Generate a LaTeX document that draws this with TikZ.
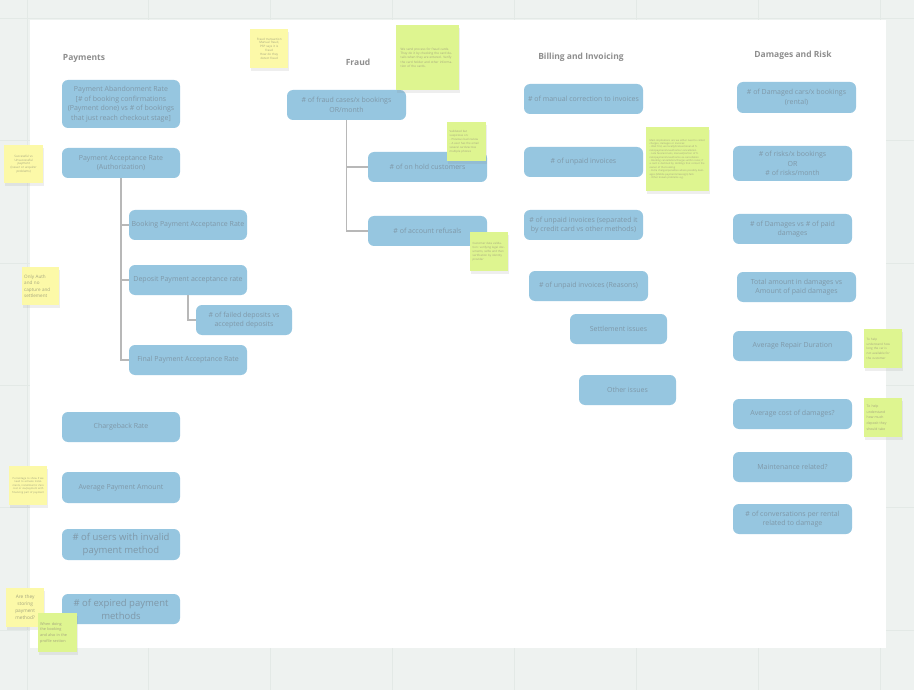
\documentclass[tikz,border=0pt]{standalone}
\usepackage{fontspec}
\setmainfont{Open Sans}
\usetikzlibrary{shadows}
\definecolor{bg}{HTML}{EEF2F0}
\definecolor{gridc}{HTML}{E3E9E6}
\definecolor{boxc}{HTML}{96C6E0}
\definecolor{boxt}{HTML}{7F98A8}
\definecolor{titlec}{HTML}{8E8E8E}
\definecolor{yel}{HTML}{FCF9A8}
\definecolor{grn}{HTML}{DEF590}
\definecolor{notet}{HTML}{A4A47E}
\definecolor{linec}{HTML}{B8B8B8}
\tikzset{
  box/.style={fill=boxc, rounded corners=6pt, align=center, text=boxt,
    font=\fontsize{7}{9.6}\selectfont, inner sep=1pt},
  bigbox/.style={box, font=\fontsize{9.5}{13}\selectfont},
  ttl/.style={text=titlec, font=\bfseries\fontsize{8.5}{10}\selectfont},
  note/.style={anchor=north west, text=notet, inner sep=2pt,
    font=\fontsize{3}{3.9}\selectfont,
    drop shadow={opacity=0.13, shadow xshift=1pt, shadow yshift=-3pt}},
  ynote/.style={note, fill=yel},
  gnote/.style={note, fill=grn},
  tree/.style={draw=linec, line width=1.2pt},
}
\begin{document}
\begin{tikzpicture}[x=1pt,y=-1pt]
\useasboundingbox (0,0) rectangle (914,690);
% background and grid
\fill[bg] (0,0) rectangle (914,690);
\foreach \gx in {27,148,270,392,514,636,758,880}
  \draw[gridc, line width=0.8pt] (\gx,0) -- (\gx,690);
\foreach \gy in {18,140,263,385,507,630}
  \draw[gridc, line width=0.8pt] (0,\gy) -- (914,\gy);
\fill[white] (30,20) rectangle (886,648);

% titles
\node[ttl] (tpay) at (84,58) {Payments};
\node[ttl] (tfra) at (358,62) {Fraud};
\node[ttl] (tbil) at (581,57) {Billing and Invoicing};
\node[ttl] (tdam) at (793,55) {Damages and Risk};

% Payments
\node[box, minimum width=118pt, minimum height=48pt] (P1) at (121,104)
  {Payment Abandonment Rate\\{[}\# of booking confirmations\\(Payment done) vs \# of bookings\\that just reach checkout stage{]}};
\node[box, minimum width=118pt, minimum height=30pt] (P2) at (121,163)
  {Payment Acceptance Rate\\(Authorization)};
\node[box, minimum width=118pt, minimum height=30pt] (P3) at (188,225)
  {Booking Payment Acceptance Rate};
\node[box, minimum width=118pt, minimum height=30pt] (P4) at (188,280)
  {Deposit Payment acceptance rate};
\node[box, minimum width=96pt, minimum height=30pt] (P5) at (244,320)
  {\# of failed deposits vs\\accepted deposits};
\node[box, minimum width=118pt, minimum height=30pt] (P6) at (188,360)
  {Final Payment Acceptance Rate};
\node[box, minimum width=118pt, minimum height=30pt] (P7) at (121,427)
  {Chargeback Rate};
\node[box, minimum width=118pt, minimum height=31pt] (P8) at (121,487.5)
  {Average Payment Amount};
\node[bigbox, minimum width=118pt, minimum height=31pt] (P9) at (121,544.5)
  {\# of users with invalid\\payment method};
\node[bigbox, minimum width=118pt, minimum height=30pt] (P10) at (121,609)
  {\# of expired payment\\methods};
\draw[tree] (P2.south) -- (P2.south |- P6.west) -- (P6.west);
\draw[tree] (P2.south |- P3.west) -- (P3.west);
\draw[tree] (P2.south |- P4.west) -- (P4.west);
\draw[tree] (P4.south) -- (P4.south |- P5.west) -- (P5.west);

% Fraud
\node[box, minimum width=119pt, minimum height=30pt] (F1) at (346.5,105)
  {\# of fraud cases/x bookings\\OR/month};
\node[box, minimum width=119pt, minimum height=30pt] (F2) at (427.5,167)
  {\# of on hold customers};
\node[box, minimum width=119pt, minimum height=30pt] (F3) at (427.5,231)
  {\# of account refusals};
\draw[tree] (F1.south) -- (F1.south |- F3.west) -- (F3.west);
\draw[tree] (F1.south |- F2.west) -- (F2.west);

% Billing
\node[box, minimum width=119pt, minimum height=30pt] (B1) at (583.5,99)
  {\# of manual correction to invoices};
\node[box, minimum width=119pt, minimum height=30pt] (B2) at (583.5,162)
  {\# of unpaid invoices};
\node[box, minimum width=119pt, minimum height=30pt] (B3) at (583.5,225)
  {\# of unpaid invoices (separated it\\by credit card vs other methods)};
\node[box, minimum width=119pt, minimum height=30pt] (B4) at (588.5,286)
  {\# of unpaid invoices (Reasons)};
\node[box, minimum width=97pt, minimum height=30pt] (B5) at (618.5,329)
  {Settlement issues};
\node[box, minimum width=97pt, minimum height=30pt] (B6) at (627.5,390)
  {Other issues};

% Damages
\node[box, minimum width=119pt, minimum height=31pt] (D1) at (796.5,97.5)
  {\# of Damaged cars/x bookings\\(rental)};
\node[box, minimum width=119pt, minimum height=35pt] (D2) at (792.5,163.5)
  {\# of risks/x bookings\\OR\\\# of risks/month};
\node[box, minimum width=119pt, minimum height=30pt] (D3) at (792.5,229)
  {\# of Damages vs \# of paid\\damages};
\node[box, minimum width=119pt, minimum height=30pt] (D4) at (796.5,287)
  {Total amount in damages vs\\Amount of paid damages};
\node[box, minimum width=119pt, minimum height=30pt] (D5) at (792.5,346)
  {Average Repair Duration};
\node[box, minimum width=119pt, minimum height=30pt] (D6) at (792.5,414)
  {Average cost of damages?};
\node[box, minimum width=119pt, minimum height=30pt] (D7) at (792.5,467)
  {Maintenance related?};
\node[box, minimum width=119pt, minimum height=30pt] (D8) at (792.5,519)
  {\# of conversations per rental\\related to damage};

% sticky notes
\node[ynote, minimum width=39pt, minimum height=38pt, text width=34pt, align=center] (N1) at (4,145)
  {Successful vs\\Unsuccessful\\payment\\(issuer or acquirer\\problems)};
\node[ynote, minimum width=37pt, minimum height=38pt, text width=33pt, align=left,
  font=\fontsize{4.6}{6.6}\selectfont] (N2) at (22,267)
  {Only Auth\\and no\\capture and\\settlement};
\node[ynote, minimum width=38pt, minimum height=39pt, text width=34pt, align=center,
  font=\fontsize{2.6}{3.4}\selectfont] (N3) at (9,466)
  {Percentage to show if we need to activate instalments, installments/ Zero cost or via/payment with financing part of payment};
\node[ynote, minimum width=38pt, minimum height=39pt, text width=34pt, align=center,
  font=\fontsize{4.8}{7}\selectfont] (N4) at (6,588)
  {Are they\\storing\\payment\\method?};
\node[gnote, minimum width=39pt, minimum height=39pt, text width=35pt, align=left,
  font=\fontsize{3.8}{5.6}\selectfont] (N5) at (38,613)
  {When doing\\the booking\\and also in the\\profile section};
\node[ynote, minimum width=38pt, minimum height=39pt, text width=34pt, align=center] (N6) at (250,29)
  {Fraud transaction\\Manual fraud,\\PSP says it is\\fraud\\How do they\\detect fraud};
\node[gnote, minimum width=63pt, minimum height=65pt, text width=54pt, align=left,
  font=\fontsize{3.1}{4.4}\selectfont] (N7) at (396,25)
  {We send process for fraud cards. They do it by checking the card details when they are entered. Verify the card holder and other information of the cards.\\[16pt]};
\node[gnote, minimum width=39pt, minimum height=39pt, text width=34pt, align=left,
  font=\fontsize{2.8}{4}\selectfont] (N8) at (447,122)
  {Validated but\\suspicious on:\\- Previous bad review\\- A user has the email\\several cards/across\\multiple phones};
\node[gnote, minimum width=38pt, minimum height=39pt, text width=33pt, align=left,
  font=\fontsize{2.8}{4}\selectfont] (N9) at (470,232)
  {Customer data validation: verifying legal documents, selfie and then verification by identity provider};
\node[gnote, minimum width=63pt, minimum height=64pt, text width=56pt, align=left,
  font=\fontsize{2.5}{3.4}\selectfont] (N10) at (646,127)
  {Main implications are we either need to collect charges, damages or invoices:\\- Wait first, we locally/transactional all finals/payment/unauthorize/ cancellation\\- Late fees/accruals, manual/portion of finals/payment/unauthorize ex-cancellation\\- Booking cancellation/charges within rules; if a card is declined by Holdings that contact the owner of the booking\\- Extra charges/penalties where possibly damages (Mobile payments/reassign) fails\\- Other known problems e.g.};
\node[gnote, minimum width=38pt, minimum height=39pt, text width=33pt, align=left,
  font=\fontsize{3}{4.6}\selectfont] (N11) at (864,329)
  {To help\\understand how\\long the car is\\not available for\\the customer};
\node[gnote, minimum width=38pt, minimum height=39pt, text width=33pt, align=left,
  font=\fontsize{3.4}{5.6}\selectfont] (N12) at (864,398)
  {To help\\understand\\how much\\deposit they\\should take};
\end{tikzpicture}
\end{document}
